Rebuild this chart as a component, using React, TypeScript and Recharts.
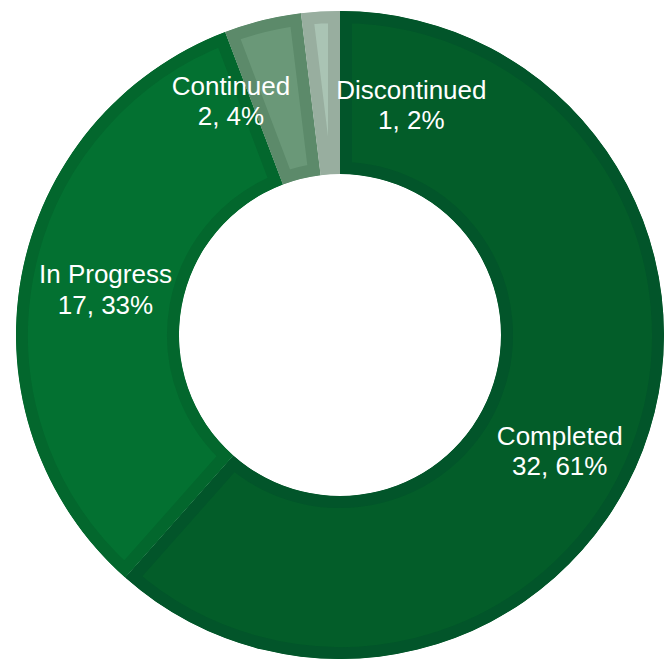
import { PieChart, Pie, Cell, Sector } from 'recharts';

const categories = ['Completed', 'In Progress', 'Continued', 'Discontinued'];
const counts = [32, 17, 2, 1];
const percentLabels = ['61%', '33%', '4%', '2%'];

const fills = ['#035D29', '#037131', '#6A9878', '#AAC4B4'];
const borders = ['#02552A', '#03672D', '#5C8A6A', '#98AE9F'];
// label nudges from slice mid point (excel moved some labels by hand)
const labelNudge = [
  [-7, 30],
  [4, -2],
  [-51, 1],
  [86, 12],
];

const RADIAN = Math.PI / 180;

const data = categories.map((name, i) => ({ name, value: counts[i], pct: percentLabels[i] }));

function InsetSector(props: any) {
  const { cx, cy, innerRadius, outerRadius, startAngle, endAngle, index } = props;
  const id = `slice-clip-${index}`;
  return (
    <g>
      <defs>
        <clipPath id={id}>
          <Sector cx={cx} cy={cy} innerRadius={innerRadius} outerRadius={outerRadius}
            startAngle={startAngle} endAngle={endAngle} />
        </clipPath>
      </defs>
      <Sector
        cx={cx}
        cy={cy}
        innerRadius={innerRadius}
        outerRadius={outerRadius}
        startAngle={startAngle}
        endAngle={endAngle}
        fill={fills[index]}
        stroke={borders[index]}
        strokeWidth={24}
        clipPath={`url(#${id})`}
      />
    </g>
  );
}

function renderLabel(props: any) {
  const { cx, cy, midAngle, innerRadius, outerRadius, index } = props;
  const r = (innerRadius + outerRadius) / 2;
  const x = cx + r * Math.cos(-midAngle * RADIAN) + labelNudge[index][0];
  const y = cy + r * Math.sin(-midAngle * RADIAN) + labelNudge[index][1];
  return (
    <text
      x={x}
      y={y - 6}
      textAnchor="middle"
      fill="#ffffff"
      fontSize={26}
      fontFamily="'Liberation Sans', Arial, sans-serif"
    >
      <tspan x={x}>{categories[index]}</tspan>
      <tspan x={x} dy={30.5}>{`${counts[index]}, ${percentLabels[index]}`}</tspan>
    </text>
  );
}

export default function App() {
  return (
    <div style={{ position: 'absolute', left: 0, top: 0, width: 666, height: 662, background: '#fff' }}>
      <PieChart width={666} height={662} margin={{ top: 0, right: 0, bottom: 0, left: 0 }}>
        <Pie
          data={data}
          dataKey="value"
          nameKey="name"
          cx={340}
          cy={335}
          innerRadius={161}
          outerRadius={324}
          startAngle={90}
          endAngle={-270}
          stroke="none"
          shape={InsetSector}
          label={renderLabel}
          labelLine={false}
          isAnimationActive={false}
        >
          {data.map((d, i) => (
            <Cell key={d.name} fill={fills[i]} />
          ))}
        </Pie>
      </PieChart>
    </div>
  );
}
